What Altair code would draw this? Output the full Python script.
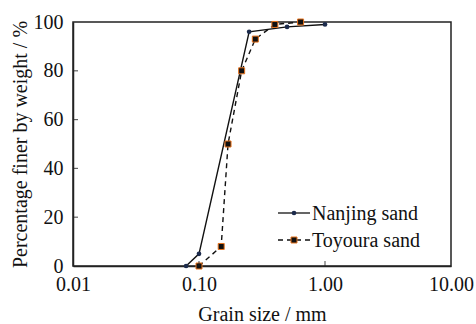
import altair as alt
import pandas as pd

# Data
nanjing_size = [0.079, 0.10, 0.25, 0.50, 1.00]
nanjing_pct = [0, 5, 96, 98, 99]
toyoura_size = [0.10, 0.15, 0.17, 0.218, 0.28, 0.40, 0.64]
toyoura_pct = [0, 8, 50, 80, 93, 99, 100]
x_ticks = [0.01, 0.1, 1, 10]
y_ticks = [0, 20, 40, 60, 80, 100]
legend_names = ["Nanjing sand", "Toyoura sand"]

FONT = "Times New Roman, Liberation Serif, DejaVu Serif, serif"
FS = 20

nj = pd.DataFrame({"size": nanjing_size, "pct": nanjing_pct})
ty = pd.DataFrame({"size": toyoura_size, "pct": toyoura_pct})

xscale = alt.Scale(type="log", domain=[0.01, 10])
yscale = alt.Scale(domain=[0, 100])

xax = alt.Axis(values=x_ticks, format=".2f", ticks=False, grid=False,
               labelFont=FONT, labelFontSize=FS, labelColor="#111", labelPadding=8,
               title="Grain size / mm", titleFont=FONT, titleFontSize=FS,
               titleFontWeight="normal", titleColor="#111", titlePadding=10,
               domainColor="#222", domainWidth=1.5, labelFlush=False)
yax = alt.Axis(values=y_ticks, ticks=False, grid=False,
               labelFont=FONT, labelFontSize=FS, labelColor="#111", labelPadding=10,
               title="Percentage finer by weight / %", titleFont=FONT, titleFontSize=FS,
               titleFontWeight="normal", titleColor="#111", titlePadding=3,
               domainColor="#222", domainWidth=1.5)

X = alt.X("size:Q", scale=xscale, axis=xax)
Y = alt.Y("pct:Q", scale=yscale, axis=yax)

nj_line = alt.Chart(nj).mark_line(color="#111", strokeWidth=1.4).encode(x=X, y=Y)
nj_pts = alt.Chart(nj).mark_point(shape="circle", filled=True, size=22,
                                  color="#1c2b4c", opacity=1).encode(x=X, y=Y)
ty_line = alt.Chart(ty).mark_line(color="#111", strokeWidth=1.4,
                                  strokeDash=[5, 4]).encode(x=X, y=Y)
ty_pts = alt.Chart(ty).mark_point(shape="square", filled=True, size=36,
                                  fill="#111", stroke="#e8741e", strokeWidth=1,
                                  opacity=1).encode(x=X, y=Y)

# inward ticks
xt = pd.DataFrame({"size": x_ticks[1:-1], "pct": [0] * (len(x_ticks) - 2)})
yt = pd.DataFrame({"size": [0.01] * (len(y_ticks) - 2), "pct": y_ticks[1:-1]})
xtick = alt.Chart(xt).mark_tick(orient="vertical", size=10, thickness=1.2,
                                color="#222", clip=True).encode(
    x=alt.X("size:Q", scale=xscale), y=alt.Y("pct:Q", scale=yscale))
ytick = alt.Chart(yt).mark_tick(orient="horizontal", size=10, thickness=1.2,
                                color="#222", clip=True).encode(
    x=alt.X("size:Q", scale=xscale), y=alt.Y("pct:Q", scale=yscale))

# manual legend (positions in plot pixels)
lg1 = pd.DataFrame({"name": [legend_names[0]]})
lg2 = pd.DataFrame({"name": [legend_names[1]]})
r1, r2 = 191, 218
leg = [
    alt.Chart(lg1).mark_rule(color="#111", strokeWidth=1.3).encode(
        x=alt.value(205), x2=alt.value(237), y=alt.value(r1)),
    alt.Chart(lg1).mark_point(shape="circle", filled=True, size=22, color="#1c2b4c",
                              opacity=1).encode(x=alt.value(221), y=alt.value(r1)),
    alt.Chart(lg1).mark_text(align="left", baseline="middle", font=FONT, fontSize=FS,
                             color="#111").encode(x=alt.value(239), y=alt.value(r1 + 1),
                                                  text="name:N"),
    alt.Chart(lg2).mark_rule(color="#111", strokeWidth=1.3, strokeDash=[5, 4]).encode(
        x=alt.value(205), x2=alt.value(237), y=alt.value(r2)),
    alt.Chart(lg2).mark_point(shape="square", filled=True, size=36, fill="#111",
                              stroke="#e8741e", strokeWidth=1, opacity=1).encode(
        x=alt.value(221), y=alt.value(r2)),
    alt.Chart(lg2).mark_text(align="left", baseline="middle", font=FONT, fontSize=FS,
                             color="#111").encode(x=alt.value(239), y=alt.value(r2 + 1),
                                                  text="name:N"),
]

chart = alt.layer(nj_line, ty_line, nj_pts, ty_pts, xtick, ytick, *leg).properties(
    width=378, height=244,
    autosize=alt.AutoSizeParams(type="none"),
    padding={"left": 73, "top": 22, "right": 25, "bottom": 58},
    background="white",
).configure_view(stroke="#222", strokeWidth=1.5)

chart.save("out.html", embed_options={"renderer": "svg", "actions": False})
